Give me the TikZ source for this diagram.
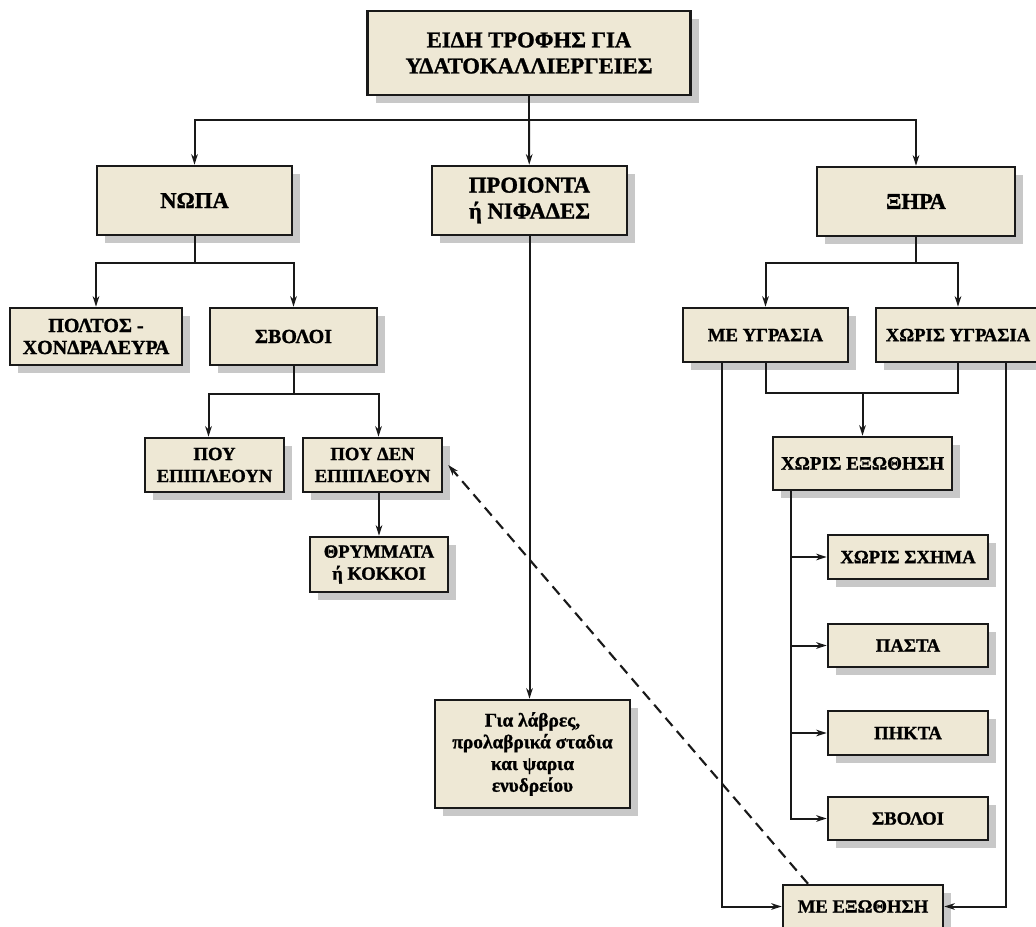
\documentclass[tikz,border=0pt]{standalone}
\usepackage{fontspec}
\setmainfont[BoldFeatures={FakeBold=1.2}]{Liberation Serif}
\usepackage{tikz}
\usetikzlibrary{arrows.meta,calc,positioning,shadows}

\definecolor{boxfill}{RGB}{238,232,213}
\definecolor{shadowgray}{RGB}{200,200,200}
\newcommand{\px}{0.75pt}

\tikzset{
    box/.style={draw=black!90, line width=1.9pt, fill=boxfill, align=center, inner sep=0pt,
        drop shadow={shadow xshift=6pt, shadow yshift=-6pt, fill=shadowgray, opacity=1},
        font=\bfseries\fontsize{14}{16.5}\selectfont},
    bigbox/.style={box, font=\bfseries\fontsize{17}{19.5}\selectfont},
    line/.style={line width=1.5pt, black!90},
    arr/.style={line, -{Stealth[length=8pt,width=5pt]}}
}

\begin{document}
\begin{tikzpicture}[x=0.75pt, y=-0.75pt]
    \useasboundingbox (0,0) rectangle (1036,927);

    % Top box
    \node[bigbox, minimum width=323*\px, minimum height=84*\px] (eidi) at (529,53) {ΕΙΔΗ ΤΡΟΦΗΣ ΓΙΑ\\ΥΔΑΤΟΚΑΛΛΙΕΡΓΕΙΕΣ};

    % Three kinds
    \node[bigbox, minimum width=195*\px, minimum height=69*\px] (nopa) at (194.5,200.5) {ΝΩΠΑ};
    \node[bigbox, minimum width=195*\px, minimum height=69*\px] (proionta) at (529.5,200.5) {ΠΡΟΙΟΝΤΑ\\ή ΝΙΦΑΔΕΣ};
    \node[bigbox, minimum width=198*\px, minimum height=69*\px] (xira) at (916,201.5) {ΞΗΡΑ};

    % Fresh food
    \node[box, minimum width=172*\px, minimum height=57*\px, font=\bfseries\fontsize{15}{16.5}\selectfont] (poltos) at (96,336.5) {ΠΟΛΤΟΣ -\\ΧΟΝΔΡΑΛΕΥΡΑ};
    \node[box, minimum width=167*\px, minimum height=57*\px, font=\bfseries\fontsize{15}{16.5}\selectfont] (svoloiA) at (293.5,336.5) {ΣΒΟΛΟΙ};
    \node[box, minimum width=139*\px, minimum height=54*\px] (pou) at (214.5,465) {ΠΟΥ\\ΕΠΙΠΛΕΟΥΝ};
    \node[box, minimum width=139*\px, minimum height=54*\px] (poudn) at (372.5,465) {ΠΟΥ ΔΕΝ\\ΕΠΙΠΛΕΟΥΝ};
    \node[box, minimum width=138*\px, minimum height=55*\px] (thrymm) at (379,564.5) {ΘΡΥΜΜΑΤΑ\\ή ΚΟΚΚΟΙ};

    % Flakes
    \node[box, minimum width=195*\px, minimum height=108*\px, font=\bfseries\fontsize{14.5}{16.3}\selectfont] (larves) at (532.5,754) {Για λάβρες,\\προλαβρικά σταδια\\και ψαρια\\ενυδρείου};

    % Dry food
    \node[box, minimum width=165*\px, minimum height=54*\px] (meygr) at (765.5,335) {ΜΕ ΥΓΡΑΣΙΑ};
    \node[box, minimum width=164*\px, minimum height=54*\px] (xorisygr) at (958,335) {ΧΩΡΙΣ ΥΓΡΑΣΙΑ};
    \node[box, minimum width=179*\px, minimum height=53*\px, font=\bfseries\fontsize{14.3}{16.5}\selectfont] (xorisex) at (862.5,463.5) {ΧΩΡΙΣ ΕΞΩΘΗΣΗ};
    \node[box, minimum width=160*\px, minimum height=44*\px] (xsxima) at (908,557) {ΧΩΡΙΣ ΣΧΗΜΑ};
    \node[box, minimum width=160*\px, minimum height=43*\px] (pasta) at (908,645.5) {ΠΑΣΤΑ};
    \node[box, minimum width=160*\px, minimum height=44*\px] (pikta) at (908,733) {ΠΗΚΤΑ};
    \node[box, minimum width=160*\px, minimum height=43*\px] (svoloiB) at (908,818.5) {ΣΒΟΛΟΙ};
    \node[box, minimum width=160*\px, minimum height=43*\px] (meex) at (863,906.5) {ΜΕ ΕΞΩΘΗΣΗ};

    % From the top box
    \coordinate (j0) at (529,120);
    \draw[line] (eidi) -- (j0);
    \draw[arr] (j0) -| (nopa);
    \draw[arr] (j0) -- (proionta);
    \draw[arr] (j0) -| (xira);

    % Fresh
    \coordinate (j1) at (194.5,263);
    \draw[line] (nopa) -- (j1);
    \draw[arr] (j1) -| (poltos);
    \draw[arr] (j1) -| (svoloiA);
    \coordinate (j2) at (293.5,394);
    \draw[line] (svoloiA) -- (j2);
    \draw[arr] (j2) -| ($(pou.north)+(-6,0)$);
    \draw[arr] (j2) -| ($(poudn.north)+(6,0)$);
    \draw[arr] (thrymm.north |- poudn.south) -- (thrymm);

    % Flakes
    \draw[arr] (proionta) -- (proionta |- larves.north);

    % Dry
    \coordinate (j3) at (916,263);
    \draw[line] (xira) -- (j3);
    \draw[arr] (j3) -| (meygr);
    \draw[arr] (j3) -| (xorisygr);
    \coordinate (j4) at (862.5,393);
    \draw[line] (meygr) |- (j4) -| (xorisygr);
    \draw[arr] (j4) -- (xorisex);
    \draw[arr] ($(meygr.south)+(-43.5,0)$) |- (meex);
    \draw[arr] ($(xorisygr.south)+(48,0)$) |- (meex);
    \coordinate (j5) at ($(xorisex.south west)+(19,0)$);
    \foreach \f in {xsxima,pasta,pikta,svoloiB}
        \draw[arr] (j5) |- (\f);

    % Dashed link back
    \draw[arr, line width=1.6pt, dash pattern=on 8pt off 5pt] ($(meex.north)+(-55,0)$) -- ($(poudn.east)+(5,0)$);
\end{tikzpicture}
\end{document}
